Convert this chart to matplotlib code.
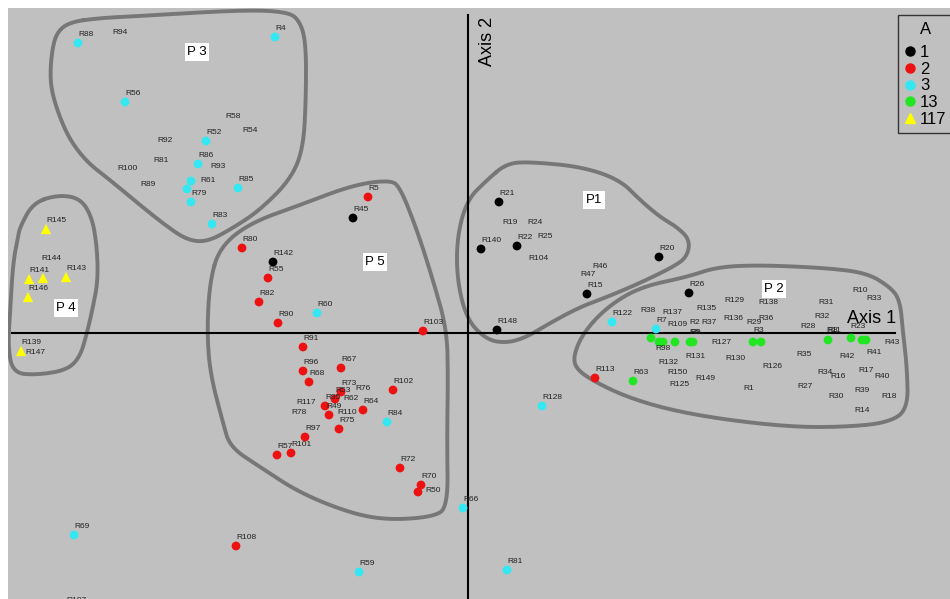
import numpy as np
import matplotlib
matplotlib.use('Agg')
import matplotlib.pyplot as plt
from matplotlib.lines import Line2D

plt.rcParams['font.family'] = ['Liberation Sans', 'DejaVu Sans']

# Scores on Axis 1 / Axis 2, by group (A)
names_1 = ['R45', 'R142', 'R21', 'R140', 'R22', 'R20', 'R15', 'R148', 'R26']
x_1 = [-1.15, -1.95, 0.31, 0.13, 0.49, 1.91, 1.19, 0.29, 2.21]
y_1 = [1.15, 0.71, 1.31, 0.84, 0.87, 0.76, 0.39, 0.03, 0.40]

names_2 = ['R5', 'R80', 'R55', 'R82', 'R90', 'R103', 'R91', 'R96', 'R67', 'R68', 'R73', '',
           'R95', '', 'R64', 'R75', 'R102', 'R97', 'R57', 'R101', 'R72', 'R70', '', 'R108', 'R113']
x_2 = [-1.00, -2.26, -2.00, -2.09, -1.90, -0.45, -1.65, -1.65, -1.27, -1.59, -1.27, -1.33,
       -1.43, -1.39, -1.05, -1.29, -0.75, -1.63, -1.91, -1.77, -0.68, -0.47, -0.50, -2.32, 1.27]
y_2 = [1.36, 0.85, 0.55, 0.31, 0.10, 0.02, -0.14, -0.38, -0.35, -0.49, -0.59, -0.66,
       -0.73, -0.82, -0.77, -0.96, -0.57, -1.04, -1.22, -1.20, -1.35, -1.52, -1.59, -2.13, -0.45]

names_3 = ['R88', 'R4', 'R56', 'R52', 'R86', '', '', 'R79', 'R85', 'R83', 'R60', 'R84',
           'R66', 'R128', 'R122', 'R7', 'R69', 'R59', 'R81']
x_3 = [-3.90, -1.93, -3.43, -2.62, -2.70, -2.77, -2.81, -2.77, -2.30, -2.56, -1.51, -0.81,
       -0.05, 0.74, 1.44, 1.88, -3.94, -1.09, 0.39]
y_3 = [2.90, 2.96, 2.31, 1.92, 1.69, 1.52, 1.44, 1.31, 1.45, 1.09, 0.20, -0.89,
       -1.75, -0.73, 0.11, 0.04, -2.02, -2.39, -2.37]

names_13 = ['', '', '', '', '', '', '', '', '', '', '', '', 'R63']
x_13 = [1.83, 1.91, 1.95, 2.07, 2.22, 2.25, 2.85, 2.93, 3.60, 3.83, 3.94, 3.98, 1.65]
y_13 = [-0.05, -0.09, -0.09, -0.09, -0.09, -0.09, -0.09, -0.09, -0.07, -0.05, -0.07, -0.07, -0.48]

names_117 = ['R145', 'R141', '', 'R143', 'R146', 'R139']
x_117 = [-4.22, -4.39, -4.25, -4.02, -4.40, -4.47]
y_117 = [1.04, 0.54, 0.55, 0.56, 0.36, -0.18]

# observations shown only by their name
other_names = ['R94', 'R58', 'R54', 'R92', 'R93', 'R81', 'R100', 'R89', 'R61', 'R144', 'R147', 'R107',
               'R19', 'R24', 'R25', 'R104', 'R46', 'R47',
               'R53', 'R62', 'R49', 'R110', 'R76', 'R117', 'R78', 'R50',
               'R38', 'R137', 'R135', 'R129', 'R138', 'R109', 'R2', 'R37', 'R136', 'R29', 'R36',
               'R31', 'R32', 'R28', 'R10', 'R33', 'R43', 'R127', 'R131', 'R130', 'R35', 'R42',
               'R41', 'R132', 'R126', 'R150', 'R149', 'R125', 'R1', 'R34', 'R16', 'R17', 'R40',
               'R27', 'R30', 'R39', 'R18', 'R14', 'R98', 'R6', 'R9', 'R3', 'R8', 'R11', 'R23']
other_x = [-3.48, -2.35, -2.18, -3.03, -2.50, -3.07, -3.40, -3.20, -2.60, -4.17, -4.33, -3.92,
           0.42, 0.67, 0.77, 0.70, 1.32, 1.20,
           -1.25, -1.17, -1.34, -1.21, -1.05, -1.62, -1.69, -0.35,
           1.80, 2.04, 2.38, 2.66, 3.00, 2.09, 2.27, 2.41, 2.65, 2.86, 2.98,
           3.58, 3.54, 3.40, 3.92, 4.06, 4.24, 2.53, 2.27, 2.67, 3.36, 3.79,
           4.06, 2.00, 3.04, 2.10, 2.37, 2.11, 2.81, 3.57, 3.70, 3.98, 4.14,
           3.37, 3.68, 3.94, 4.21, 3.94, 1.95, 2.27, 2.28, 2.91, 3.65, 3.66, 3.90]
other_y = [3.01, 2.16, 2.03, 1.93, 1.67, 1.73, 1.64, 1.49, 1.53, 0.75, -0.19, -2.68,
           1.11, 1.11, 0.96, 0.75, 0.67, 0.59,
           -0.57, -0.66, -0.73, -0.80, -0.56, -0.70, -0.80, -1.58,
           0.22, 0.20, 0.25, 0.32, 0.30, 0.09, 0.10, 0.11, 0.15, 0.10, 0.15,
           0.30, 0.16, 0.06, 0.42, 0.34, -0.10, -0.09, -0.23, -0.26, -0.22, -0.24,
           -0.19, -0.30, -0.34, -0.39, -0.45, -0.51, -0.55, -0.40, -0.44, -0.38, -0.43,
           -0.54, -0.64, -0.58, -0.64, -0.77, -0.16, 0.00, 0.00, 0.02, 0.02, 0.02, 0.06]

# hand drawn group outlines
p1_x = [0.19, 0.39, 0.65, 1.15, 1.52, 1.72, 1.92, 2.09, 2.22, 2.19, 2.05, 1.72, 1.39, 1.12, 0.82, 0.59, 0.39, 0.19, -0.01, -0.11, -0.11, -0.01]
p1_y = [1.53, 1.70, 1.71, 1.66, 1.53, 1.33, 1.16, 1.06, 0.93, 0.76, 0.66, 0.50, 0.36, 0.26, 0.10, -0.04, -0.10, -0.07, 0.13, 0.53, 0.96, 1.33]
p2_x = [1.15, 1.39, 1.72, 2.19, 2.49, 2.92, 3.59, 3.99, 4.22, 4.32, 4.35, 4.39, 4.40, 4.19, 3.75, 3.25, 2.59, 2.02, 1.59, 1.29, 1.09, 1.05]
p2_y = [0.00, 0.26, 0.46, 0.56, 0.66, 0.68, 0.65, 0.60, 0.46, 0.33, 0.00, -0.34, -0.77, -0.90, -0.94, -0.94, -0.87, -0.77, -0.64, -0.50, -0.37, -0.24]
p3_x = [-3.98, -3.68, -3.28, -2.81, -2.15, -1.83, -1.70, -1.62, -1.62, -1.65, -1.78, -2.08, -2.35, -2.61, -2.81, -3.03, -3.28, -3.58, -3.80, -3.96, -4.06, -4.15, -4.18, -4.16, -4.11]
p3_y = [3.11, 3.15, 3.17, 3.20, 3.23, 3.21, 3.15, 2.93, 2.33, 1.83, 1.53, 1.23, 1.05, 0.91, 0.93, 1.08, 1.28, 1.53, 1.70, 1.90, 2.10, 2.36, 2.56, 2.83, 3.01]
p4_x = [-4.35, -4.11, -3.88, -3.76, -3.71, -3.70, -3.75, -3.81, -3.88, -4.01, -4.31, -4.55, -4.60, -4.58, -4.55, -4.50, -4.48]
p4_y = [1.30, 1.38, 1.35, 1.16, 0.86, 0.53, 0.26, 0.00, -0.24, -0.37, -0.42, -0.40, -0.14, 0.20, 0.70, 0.96, 1.06]
p5_x = [-2.58, -2.48, -2.18, -1.68, -1.15, -0.78, -0.68, -0.51, -0.35, -0.21, -0.20, -0.21, -0.20, -0.35, -0.81, -1.18, -1.68, -2.08, -2.38, -2.45, -2.58, -2.61]
p5_y = [0.53, 0.86, 1.10, 1.28, 1.48, 1.53, 1.46, 1.03, 0.53, 0.03, -0.47, -1.07, -1.74, -1.84, -1.87, -1.80, -1.60, -1.34, -1.14, -0.90, -0.40, 0.03]

group_labels = ['P1', 'P 2', 'P 3', 'P 4', 'P 5']
group_lx = [1.26, 3.06, -2.71, -4.02, -0.93]
group_ly = [1.33, 0.44, 2.81, 0.25, 0.71]


def smooth(xs, ys, n=3):
    # Chaikin corner cutting on a closed outline
    pts = np.column_stack([xs, ys])
    for _ in range(n):
        nxt = np.roll(pts, -1, axis=0)
        pts = np.column_stack([0.75 * pts + 0.25 * nxt, 0.25 * pts + 0.75 * nxt]).reshape(-1, 2)
    pts = np.vstack([pts, pts[:1]])
    return pts[:, 0], pts[:, 1]


fig = plt.figure(figsize=(9.5, 5.99), dpi=100)
ax = fig.add_axes([8 / 950, 0, 942 / 950, 591 / 599])
ax.set_facecolor('#c0c0c0')
ax.set_xlim(-4.60, 4.82)
ax.set_ylim(-2.66, 3.25)
ax.set_xticks([])
ax.set_yticks([])
for s in ax.spines.values():
    s.set_visible(False)

for hx, hy in [(p1_x, p1_y), (p2_x, p2_y), (p3_x, p3_y), (p4_x, p4_y), (p5_x, p5_y)]:
    sx, sy = smooth(hx, hy)
    ax.plot(sx, sy, color='#777777', lw=2.8, solid_capstyle='round', zorder=1)

# axes through the origin
ax.plot([-4.56, 4.27], [0, 0], color='black', lw=1.5, zorder=2)
ax.plot([0, 0], [3.18, -2.70], color='black', lw=1.5, zorder=2)
ax.text(3.79, 0.10, 'Axis 1', fontsize=13, ha='left', va='baseline', zorder=5)
ax.text(0.20, 2.92, 'Axis 2', fontsize=13, ha='center', va='center', rotation=90, zorder=5)

groups = [
    ('1', names_1, x_1, y_1, '#000000', 'o'),
    ('2', names_2, x_2, y_2, '#ee1111', 'o'),
    ('3', names_3, x_3, y_3, '#33e8f2', 'o'),
    ('13', names_13, x_13, y_13, '#22e622', 'o'),
    ('117', names_117, x_117, y_117, '#ffff00', '^'),
]
handles = []
for lab, nm, gx, gy, col, mk in groups:
    ax.scatter(gx, gy, s=40 if mk == 'o' else 55, c=col, marker=mk, edgecolors='none', zorder=3)
    for n, px, py in zip(nm, gx, gy):
        if n:
            ax.annotate(n, (px, py), xytext=(0, 5), textcoords='offset points',
                        fontsize=6, ha='left', va='baseline', color='#222222', zorder=4)
    handles.append(Line2D([], [], ls='none', marker=mk, color=col, markersize=6.5, label=lab))

for n, px, py in zip(other_names, other_x, other_y):
    ax.text(px, py, n, fontsize=6, ha='center', va='center', color='#222222', zorder=4)

for t, px, py in zip(group_labels, group_lx, group_ly):
    ax.text(px, py, t, fontsize=9.5, ha='center', va='center', zorder=5,
            bbox=dict(boxstyle='square,pad=0.2', fc='white', ec='none'))

leg = ax.legend(handles=handles, title='A', loc='upper right', fontsize=12, title_fontsize=12,
                bbox_to_anchor=(953 / 950, 1 - 15 / 599), bbox_transform=fig.transFigure,
                borderaxespad=0, labelspacing=0.1, handlelength=0.6, handletextpad=0.3,
                borderpad=0.4, fancybox=False, framealpha=1)
leg._legend_box.sep = 6
leg.get_frame().set_facecolor('#c0c0c0')
leg.get_frame().set_edgecolor('#333333')
leg.get_frame().set_linewidth(1.0)

fig.savefig('out.png', dpi=100)
